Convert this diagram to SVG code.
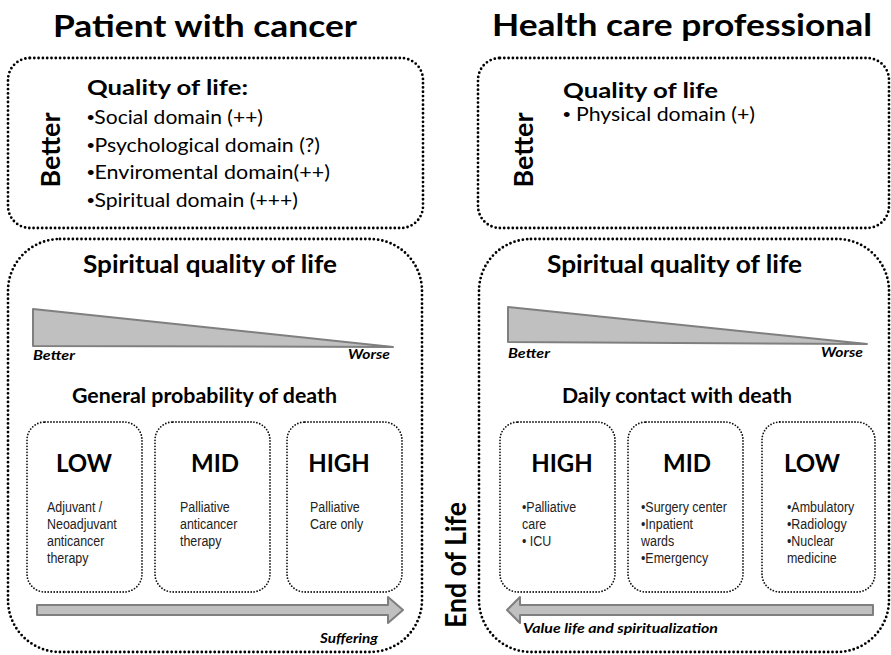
<svg xmlns="http://www.w3.org/2000/svg" width="891" height="655" viewBox="0 0 891 655">
<style>
.bg{fill:#fff}
.frame{fill:none;stroke:#000;stroke-width:2.8;stroke-linecap:round;stroke-dasharray:0 4.3}
.sframe{fill:none;stroke:#111;stroke-width:1.8;stroke-linecap:round;stroke-dasharray:0 3}
.h{font-family:Lato,"Open Sans",sans-serif;font-weight:bold;fill:#000}
.r{font-family:Lato,"Open Sans",sans-serif;fill:#000}
.bi{font-family:Lato,"Open Sans",sans-serif;font-weight:bold;font-style:italic;fill:#000}
.s{font-family:"Liberation Sans",Arial,sans-serif;font-size:15px;fill:#222}
.b{font-family:"Liberation Sans",Arial,sans-serif}
.shape{fill:#c0c0c0;stroke:#7f7f7f;stroke-width:2;stroke-linejoin:round}
</style>
<rect class="bg" x="0" y="0" width="891" height="655"/>

<g id="title-left"><text class="h" x="53" y="37" font-size="30" textLength="304" lengthAdjust="spacingAndGlyphs">Patient with cancer</text></g>
<g id="title-right"><text class="h" x="492" y="36" font-size="30" textLength="380" lengthAdjust="spacingAndGlyphs">Health care professional</text></g>

<g id="qol-left">
<rect class="frame" x="8" y="58" width="415" height="170" rx="22"/>
<text class="h" font-size="27" transform="translate(60,150) rotate(-90)" text-anchor="middle" textLength="75" lengthAdjust="spacingAndGlyphs">Better</text>
<text class="h" x="87" y="95" font-size="21" textLength="161" lengthAdjust="spacingAndGlyphs">Quality of life:</text>
<text class="r" x="87" y="124" font-size="19" textLength="176" lengthAdjust="spacingAndGlyphs"><tspan class="b">•</tspan>Social domain (++)</text>
<text class="r" x="87" y="152" font-size="19" textLength="233" lengthAdjust="spacingAndGlyphs"><tspan class="b">•</tspan>Psychological domain (?)</text>
<text class="r" x="87" y="179" font-size="19" textLength="243" lengthAdjust="spacingAndGlyphs"><tspan class="b">•</tspan>Enviromental domain(++)</text>
<text class="r" x="87" y="207" font-size="19" textLength="211" lengthAdjust="spacingAndGlyphs"><tspan class="b">•</tspan>Spiritual domain (+++)</text>
</g>

<g id="qol-right">
<rect class="frame" x="478" y="58" width="411" height="170" rx="22"/>
<text class="h" font-size="27" transform="translate(533,150) rotate(-90)" text-anchor="middle" textLength="75" lengthAdjust="spacingAndGlyphs">Better</text>
<text class="h" x="563" y="98" font-size="21" textLength="155" lengthAdjust="spacingAndGlyphs">Quality of life</text>
<text class="r" x="563" y="121" font-size="19" textLength="192" lengthAdjust="spacingAndGlyphs"><tspan class="b">•</tspan> Physical domain (+)</text>
</g>

<g id="patient-panel">
<rect class="frame" x="8" y="239" width="414" height="413" rx="52"/>
<text class="h" x="83" y="273" font-size="24" textLength="254" lengthAdjust="spacingAndGlyphs">Spiritual quality of life</text>
<polygon class="shape" points="33,309 393,347 33,346"/>
<text class="bi" x="33" y="360" font-size="13" textLength="42" lengthAdjust="spacingAndGlyphs">Better</text>
<text class="bi" x="390" y="359" font-size="13" text-anchor="end" textLength="42" lengthAdjust="spacingAndGlyphs">Worse</text>
<text class="h" x="72" y="403" font-size="20" textLength="265" lengthAdjust="spacingAndGlyphs">General probability of death</text>
</g>

<g id="p-low">
<rect class="sframe" x="27" y="422" width="115" height="170" rx="18"/>
<text class="h" x="84" y="472" font-size="24" text-anchor="middle">LOW</text>
<g transform="translate(47,0) scale(0.83,1)">
<text class="s" x="0" y="512">Adjuvant /</text>
<text class="s" x="0" y="529">Neoadjuvant</text>
<text class="s" x="0" y="546">anticancer</text>
<text class="s" x="0" y="563">therapy</text>
</g>
</g>
<g id="p-mid">
<rect class="sframe" x="155" y="422" width="115" height="170" rx="18"/>
<text class="h" x="215" y="472" font-size="24" text-anchor="middle">MID</text>
<g transform="translate(180,0) scale(0.83,1)">
<text class="s" x="0" y="512">Palliative</text>
<text class="s" x="0" y="529">anticancer</text>
<text class="s" x="0" y="546">therapy</text>
</g>
</g>
<g id="p-high">
<rect class="sframe" x="287" y="422" width="115" height="170" rx="18"/>
<text class="h" x="339" y="472" font-size="24" text-anchor="middle">HIGH</text>
<g transform="translate(310,0) scale(0.83,1)">
<text class="s" x="0" y="512">Palliative</text>
<text class="s" x="0" y="529">Care only</text>
</g>
</g>

<g id="professional-panel">
<rect class="frame" x="479" y="239" width="410" height="413" rx="52"/>
<text class="h" x="547" y="273" font-size="24" textLength="255" lengthAdjust="spacingAndGlyphs">Spiritual quality of life</text>
<polygon class="shape" points="508,307 867,344 508,342"/>
<text class="bi" x="508" y="358" font-size="13" textLength="42" lengthAdjust="spacingAndGlyphs">Better</text>
<text class="bi" x="863" y="357" font-size="13" text-anchor="end" textLength="42" lengthAdjust="spacingAndGlyphs">Worse</text>
<text class="h" x="562" y="403" font-size="20" textLength="230" lengthAdjust="spacingAndGlyphs">Daily contact with death</text>
</g>

<g id="h-high">
<rect class="sframe" x="500" y="422" width="115" height="170" rx="18"/>
<text class="h" x="562" y="472" font-size="24" text-anchor="middle">HIGH</text>
<g transform="translate(522,0) scale(0.83,1)">
<text class="s" x="0" y="512">•Palliative</text>
<text class="s" x="0" y="529">care</text>
<text class="s" x="0" y="546">• ICU</text>
</g>
</g>
<g id="h-mid">
<rect class="sframe" x="628" y="422" width="115" height="170" rx="18"/>
<text class="h" x="687" y="472" font-size="24" text-anchor="middle">MID</text>
<g transform="translate(641,0) scale(0.83,1)">
<text class="s" x="0" y="512">•Surgery center</text>
<text class="s" x="0" y="529">•Inpatient</text>
<text class="s" x="0" y="546">wards</text>
<text class="s" x="0" y="563">•Emergency</text>
</g>
</g>
<g id="h-low">
<rect class="sframe" x="762" y="422" width="113" height="170" rx="18"/>
<text class="h" x="812" y="472" font-size="24" text-anchor="middle">LOW</text>
<g transform="translate(787,0) scale(0.83,1)">
<text class="s" x="0" y="512">•Ambulatory</text>
<text class="s" x="0" y="529">•Radiology</text>
<text class="s" x="0" y="546">•Nuclear</text>
<text class="s" x="0" y="563">medicine</text>
</g>
</g>

<g id="connectors">
<polygon class="shape" points="37,605 388,605 388,597 403,610 388,623 388,615 37,615"/>
<text class="bi" x="378" y="643" font-size="14" text-anchor="end" textLength="58" lengthAdjust="spacingAndGlyphs">Suffering</text>
<polygon class="shape" points="873,605 520,605 520,597 507,610 520,623 520,615 873,615"/>
<text class="bi" x="523" y="633" font-size="14" textLength="195" lengthAdjust="spacingAndGlyphs">Value life and spiritualization</text>
</g>

<g id="end-of-life">
<text class="h" font-size="29" transform="translate(466,565) rotate(-90)" text-anchor="middle" textLength="126" lengthAdjust="spacingAndGlyphs">End of Life</text>
</g>
</svg>
